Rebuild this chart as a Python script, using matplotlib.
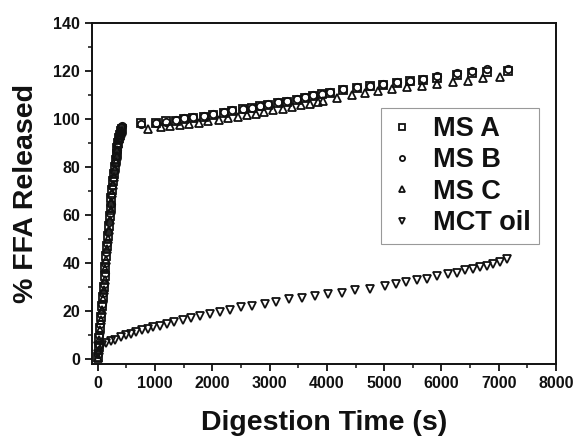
import matplotlib
matplotlib.use('Agg')
import matplotlib.pyplot as plt
from matplotlib.ticker import MultipleLocator

plt.rcParams['font.family'] = ['Liberation Sans', 'DejaVu Sans']
plt.rcParams['font.weight'] = 'bold'

# digestion time (s)
t_rise = [0, 15, 30, 45, 60, 75, 90, 105, 120, 135, 150, 165, 180, 195, 210,
          225, 240, 255, 270, 285, 300, 315, 330, 345, 360, 375, 390, 405, 420]
t_plat = [750, 1010, 1185, 1360, 1500, 1670, 1850, 2020, 2200, 2350, 2530, 2700,
          2840, 2980, 3140, 3310, 3480, 3620, 3760, 3920, 4060, 4290, 4530, 4760,
          4980, 5230, 5450, 5680, 5920, 6270, 6530, 6790, 7160]
t_plat_c = [880, 1100, 1270, 1430, 1590, 1760, 1930, 2110, 2280, 2440, 2610, 2770,
            2910, 3060, 3230, 3400, 3550, 3700, 3850, 3940, 4180, 4440, 4670, 4900,
            5140, 5400, 5660, 5920, 6200, 6460, 6720, 7020]
t_mct = [0, 12, 70, 147, 223, 306, 400, 500, 588, 676, 765, 870, 970, 1088, 1206,
         1340, 1482, 1635, 1794, 1952, 2129, 2305, 2500, 2694, 2912, 3118, 3341,
         3559, 3794, 4013, 4262, 4495, 4756, 5017, 5209, 5383, 5569, 5755, 5929,
         6121, 6266, 6411, 6545, 6672, 6789, 6905, 7021, 7148]

# % FFA released
ms_a_rise = [1, 5, 9, 13, 17.5, 22, 26, 30, 34.5, 38.5, 43, 47, 51.5, 55.5, 59.5,
             63, 67, 70.5, 74, 77, 80, 83, 85.5, 88, 90, 92, 93.5, 95, 96]
ms_a_plat = [98.2, 98.5, 99.0, 99.3, 100.0, 100.5, 101.0, 101.5, 102.5, 103.5, 104.0,
             104.5, 105.3, 106.0, 106.5, 107.3, 108.0, 108.8, 109.6, 110.3, 110.8,
             112.2, 113.0, 113.7, 114.3, 115.0, 115.7, 116.3, 117.3, 118.3, 119.0,
             119.6, 120.0]
ms_b_rise = [2, 6, 10, 14.5, 19, 23, 27.5, 31.5, 36, 40, 44.5, 48.5, 53, 57, 61,
             64.5, 68.5, 72, 75.5, 78.5, 81.5, 84.5, 87, 89.5, 91.5, 93.5, 95, 96.5, 97]
ms_b_plat = [98.0, 98.3, 98.8, 99.5, 100.3, 100.8, 101.3, 102.0, 102.8, 103.8, 104.3,
             104.8, 105.6, 106.3, 106.9, 107.6, 108.3, 109.1, 109.9, 110.6, 111.2,
             112.6, 113.3, 113.9, 114.6, 115.3, 116.0, 116.7, 118.1, 119.1, 120.1,
             120.8, 121.0]
ms_c_rise = [0.5, 4, 8, 12, 16.5, 20.5, 25, 29, 33, 37.5, 41.5, 46, 50, 54, 58,
             62, 65.5, 69, 72.5, 76, 79, 82, 84.5, 87, 89.5, 91.5, 93, 94, 95]
ms_c_plat = [96.0, 96.5, 97.0, 97.5, 98.0, 98.5, 99.0, 99.5, 100.3, 101.0, 101.7,
             102.3, 103.0, 103.6, 104.3, 105.0, 105.7, 106.4, 107.0, 107.6, 108.8,
             110.0, 110.9, 111.6, 112.4, 113.2, 113.9, 114.6, 115.3, 116.0, 117.0,
             117.6]
mct = [2.3, 5.4, 6.0, 6.7, 7.4, 8.2, 9.1, 9.9, 10.6, 11.4, 12.0, 12.6, 13.3, 14.0,
       14.8, 15.5, 16.4, 17.2, 18.0, 18.8, 19.7, 20.6, 21.6, 22.3, 23.1, 23.9, 24.9,
       25.6, 26.3, 27.1, 27.6, 28.7, 29.4, 30.4, 31.5, 32.2, 32.9, 33.5, 34.5, 35.3,
       36.1, 37.0, 37.5, 38.4, 39.0, 39.7, 40.5, 41.6]

fig = plt.figure(figsize=(5.77, 4.36), dpi=100)
ax = fig.add_axes([92/577, 1-364/436, 464/577, 341/436])

mk = dict(linestyle='none', mfc='none', mec='#111111', ms=5.3, mew=1.3)
ax.plot(t_rise + t_plat, ms_a_rise + ms_a_plat, marker='s', label='MS A', **mk)
ax.plot(t_rise + t_plat, ms_b_rise + ms_b_plat, marker='o', label='MS B', **mk)
ax.plot(t_rise + t_plat_c, ms_c_rise + ms_c_plat, marker='^', label='MS C', **mk)
ax.plot(t_mct, mct, marker='v', label='MCT oil', **mk)

ax.set_xlim(-100, 8000)
ax.set_ylim(-2, 140)
ax.xaxis.set_major_locator(MultipleLocator(1000))
ax.xaxis.set_minor_locator(MultipleLocator(500))
ax.yaxis.set_major_locator(MultipleLocator(20))
ax.yaxis.set_minor_locator(MultipleLocator(10))
ax.tick_params(which='major', direction='out', length=5, width=1.3, labelsize=11.5,
               colors='#111111')
ax.tick_params(which='minor', direction='out', length=3, width=1.1, colors='#111111')
for s in ax.spines.values():
    s.set_linewidth(1.4)
    s.set_color('#111111')

ax.set_xlabel('Digestion Time (s)', fontsize=20.5, fontweight='bold', labelpad=14,
              color='#111111')
ax.set_ylabel('% FFA Released', fontsize=20.5, fontweight='bold', labelpad=10,
              color='#111111')

leg = ax.legend(loc='upper right', bbox_to_anchor=(0.963, 0.751), fontsize=19.5,
                frameon=True, fancybox=False, edgecolor='gray', markerscale=0.7,
                handlelength=0.9, handletextpad=0.7, labelspacing=0.2,
                borderpad=0.3, borderaxespad=0)
leg.get_frame().set_linewidth(0.8)
for txt in leg.get_texts():
    txt.set_fontweight('bold')
    txt.set_color('#111111')

fig.savefig('out.png', dpi=100)
